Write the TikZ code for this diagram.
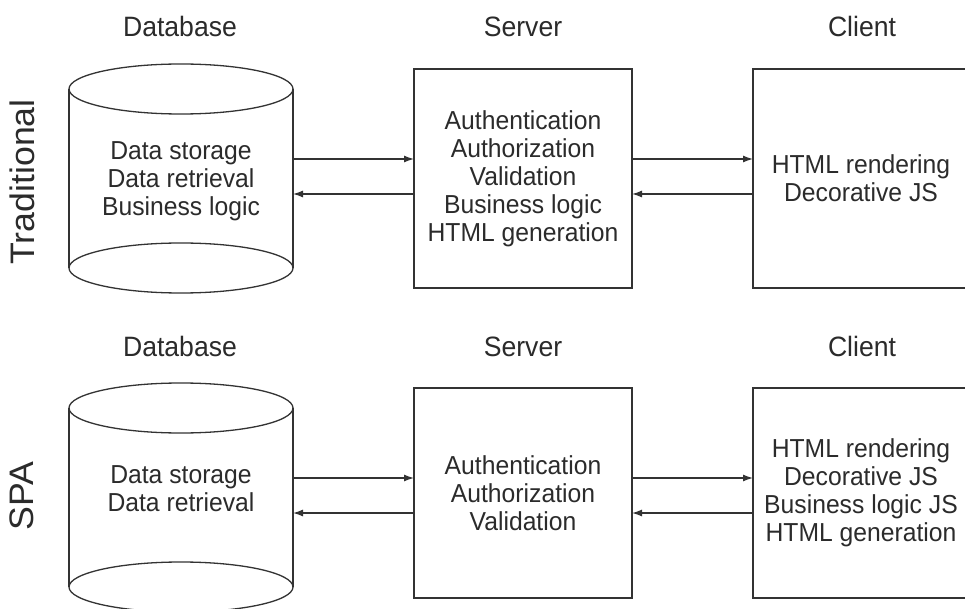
\documentclass[tikz,border=0pt]{standalone}
\usepackage{fontspec}
\setmainfont{Liberation Sans}[FakeStretch=0.95]
\newfontfamily\sidefont{Liberation Sans}[FakeStretch=1.05]
\usetikzlibrary{arrows.meta}
\definecolor{ink}{HTML}{333333}
\definecolor{txt}{HTML}{2B2B2B}
\begin{document}
\begin{tikzpicture}[x=1pt,y=-1pt,
  every node/.style={inner sep=0pt, outer sep=0pt, text=txt},
  boxnode/.style={draw=ink, line width=1.3pt, rectangle, align=center, font=\fontsize{26}{28}\selectfont},
  body/.style={align=center, font=\fontsize{26}{28}\selectfont},
  head/.style={font=\fontsize{28}{32}\selectfont, anchor=base},
  side/.style={font=\sidefont\fontsize{34}{38}\selectfont, rotate=90},
  arr/.style={draw=ink, line width=1.3pt, -{Latex[length=10pt,width=7pt]}},
  cyl/.style={draw=ink, line width=1.3pt}]
\useasboundingbox (0,0) rectangle (965,609);
\fill[white] (0,0) rectangle (965,609);
\clip (0,0) rectangle (965,609);

% headers
\node[head] (h1) at (180,37) {Database};
\node[head] (h2) at (523,37) {Server};
\node[head] (h3) at (862,37) {Client};
\node[head] (h4) at (180,356) {Database};
\node[head] (h5) at (523,356) {Server};
\node[head] (h6) at (862,356) {Client};

% side labels
\node[side] (t1) at (22,182) {Traditional};
\node[side] (t2) at (22,496) {SPA};

% ---- traditional row ----
\node[minimum width=224pt, minimum height=179pt] (db1) at (181,178.5) {};
\node[body] (db1t) at (181,181) {Data storage\\Data retrieval\\Business logic};
\draw[cyl] (db1.north west) -- (db1.south west);
\draw[cyl] (db1.north east) -- (db1.south east);
\draw[cyl] (db1.north) ellipse [x radius=112pt, y radius=25pt];
\draw[cyl] (db1.south) ellipse [x radius=112pt, y radius=25pt];

\node[boxnode, minimum width=218pt, minimum height=219pt] (srv1) at (523,178.5) {Authentication\\Authorization\\Validation\\Business logic\\HTML generation};
\node[boxnode, minimum width=216pt, minimum height=219pt] (cli1) at (861,178.5) {HTML rendering\\Decorative JS};

\draw[arr] (db1.east |- 0,159) -- (srv1.west |- 0,159);
\draw[arr] (srv1.west |- 0,194) -- (db1.east |- 0,194);
\draw[arr] (srv1.east |- 0,159) -- (cli1.west |- 0,159);
\draw[arr] (cli1.west |- 0,194) -- (srv1.east |- 0,194);

% ---- SPA row ----
\node[minimum width=224pt, minimum height=179pt] (db2) at (181,497.5) {};
\node[body] (db2t) at (181,489) {Data storage\\Data retrieval};
\draw[cyl] (db2.north west) -- (db2.south west);
\draw[cyl] (db2.north east) -- (db2.south east);
\draw[cyl] (db2.north) ellipse [x radius=112pt, y radius=25pt];
\draw[cyl] (db2.south) ellipse [x radius=112pt, y radius=25pt];

\node[boxnode, minimum width=218pt, minimum height=210pt] (srv2) at (523,493) {Authentication\\Authorization\\Validation};
\node[boxnode, minimum width=216pt, minimum height=210pt] (cli2) at (861,493) {HTML rendering\\Decorative JS\\Business logic JS\\HTML generation};

\draw[arr] (db2.east |- 0,478) -- (srv2.west |- 0,478);
\draw[arr] (srv2.west |- 0,513) -- (db2.east |- 0,513);
\draw[arr] (srv2.east |- 0,478) -- (cli2.west |- 0,478);
\draw[arr] (cli2.west |- 0,513) -- (srv2.east |- 0,513);
\end{tikzpicture}
\end{document}
